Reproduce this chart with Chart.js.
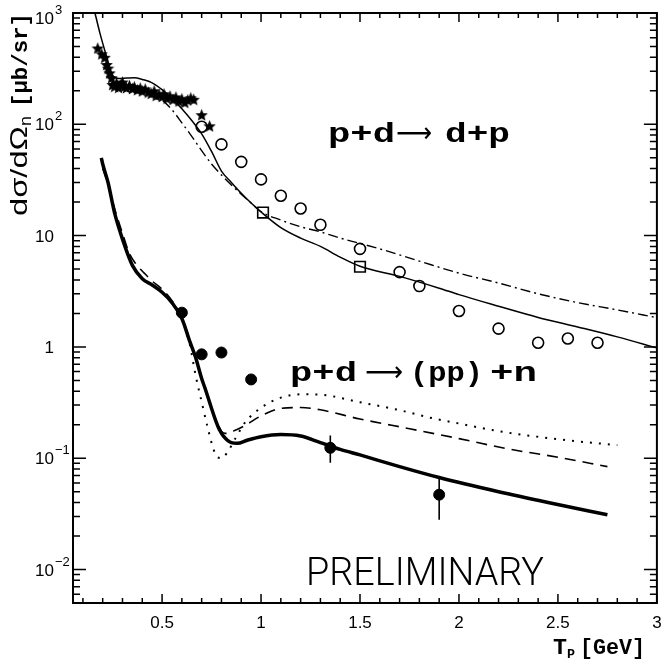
<!DOCTYPE html>
<html>
<head>
<meta charset="utf-8">
<script src="https://cdn.jsdelivr.net/npm/chart.js@4.4.1/dist/chart.umd.min.js"></script>
<style>
  html, body { margin: 0; padding: 0; background: #fff; }
  #wrap { width: 666px; height: 664px; }
</style>
</head>
<body>
<div id="wrap"><canvas id="c" width="666" height="664"></canvas></div>
<script>
// p+d -> d+p data (stars: low energy, circles, squares)
const starX = [0.175, 0.195, 0.21, 0.22, 0.227, 0.235, 0.245, 0.25, 0.26, 0.27, 0.28, 0.29, 0.30, 0.31, 0.32, 0.335, 0.35, 0.36, 0.375, 0.39, 0.40, 0.415, 0.43, 0.445, 0.46, 0.47, 0.485, 0.50, 0.51, 0.525, 0.54, 0.555, 0.57, 0.585, 0.60, 0.615, 0.63, 0.645, 0.66, 0.70, 0.74];
const starY = [485, 430, 400, 345, 320, 290, 262, 228, 220, 235, 215, 226, 240, 220, 214, 224, 210, 218, 205, 212, 200, 208, 195, 190, 200, 182, 186, 178, 188, 172, 180, 168, 176, 162, 170, 158, 166, 173, 168, 122, 97];

const ddpCircX = [0.7, 0.8, 0.9, 1.0, 1.1, 1.2, 1.3, 1.5, 1.7, 1.8, 2.0, 2.2, 2.4, 2.55, 2.7];
const ddpCircY = [95, 66, 46, 32, 22.8, 17.5, 12.5, 7.6, 4.7, 3.52, 2.1, 1.46, 1.09, 1.19, 1.09];

const ddpSqX = [1.01, 1.5];
const ddpSqY = [16.1, 5.25];

// p+d -> d+p calculations
const ddpSolidX = [0.161, 0.186, 0.22, 0.25, 0.28, 0.32, 0.36, 0.4, 0.45, 0.5, 0.55, 0.6, 0.65, 0.7, 0.75, 0.8, 0.85, 0.9, 0.95, 1.0, 1.1, 1.2, 1.3, 1.4, 1.5, 1.7, 1.9, 2.0, 2.2, 2.4, 2.6, 2.8, 3.0];
const ddpSolidY = [1000, 660, 405, 275, 258, 260, 262, 253, 236, 205, 170, 138, 108, 82, 57, 38, 30, 24, 19.6, 16.3, 11.8, 9.5, 8.0, 6.4, 5.3, 4.3, 3.37, 2.95, 2.32, 1.84, 1.51, 1.23, 0.98];

const ddpDashDotX = [0.42, 0.45, 0.5, 0.55, 0.6, 0.65, 0.7, 0.75, 0.8, 0.85, 0.9, 0.95, 1.0, 1.1, 1.2, 1.3, 1.4, 1.5, 1.6, 1.8, 2.0, 2.2, 2.4, 2.6, 2.8, 3.0];
const ddpDashDotY = [205, 185, 165, 135, 103, 78, 58, 44, 35, 28.5, 23.5, 19.6, 16.4, 13.8, 12.0, 10.8, 9.5, 8.5, 7.6, 5.9, 4.6, 3.75, 3.0, 2.5, 2.15, 1.83];

// p+d -> (pp)+n data with error bars
const ppnX = [0.6, 0.7, 0.8, 0.95, 1.35, 1.9];
const ppnY = [2.03, 0.857, 0.89, 0.51, 0.124, 0.047];
const ppnErrLo = [null, null, null, 0.46, 0.091, 0.028];
const ppnErrHi = [null, null, null, 0.55, 0.16, 0.068];

// p+d -> (pp)+n calculations
const ppnSolidX = [0.193, 0.2, 0.227, 0.26, 0.3, 0.35, 0.4, 0.45, 0.5, 0.55, 0.6, 0.64, 0.67, 0.7, 0.72, 0.75, 0.77, 0.79, 0.81, 0.85, 0.88, 0.93, 1.0, 1.1, 1.2, 1.3, 1.4, 1.5, 1.7, 1.9, 2.2, 2.45, 2.75];
const ppnSolidY = [50, 44, 30, 16, 9.3, 5.4, 4.1, 3.6, 3.1, 2.5, 1.8, 1.12, 0.8, 0.52, 0.41, 0.28, 0.22, 0.18, 0.158, 0.138, 0.136, 0.145, 0.156, 0.163, 0.158, 0.138, 0.12, 0.107, 0.084, 0.067, 0.05, 0.04, 0.031];

const ppnDashX = [0.2, 0.23, 0.26, 0.3, 0.335, 0.37, 0.41, 0.45, 0.5, 0.55, 0.6, 0.65, 0.7, 0.75, 0.8, 0.82, 0.87, 0.92, 1.0, 1.1, 1.2, 1.3, 1.5, 1.75, 2.0, 2.25, 2.5, 2.75];
const ppnDashY = [40, 28, 17.5, 10.5, 6.9, 5.5, 4.6, 3.9, 3.3, 2.6, 1.85, 1.0, 0.52, 0.28, 0.175, 0.167, 0.178, 0.197, 0.24, 0.28, 0.285, 0.272, 0.225, 0.184, 0.15, 0.121, 0.102, 0.084];

const ppnDotX = [0.6, 0.64, 0.67, 0.7, 0.73, 0.76, 0.78, 0.8, 0.83, 0.87, 0.92, 1.0, 1.1, 1.2, 1.3, 1.5, 1.7, 1.85, 2.0, 2.2, 2.5, 2.8];
const ppnDotY = [1.8, 1.05, 0.55, 0.32, 0.19, 0.12, 0.102, 0.1, 0.113, 0.15, 0.21, 0.284, 0.35, 0.375, 0.372, 0.318, 0.27, 0.232, 0.205, 0.175, 0.148, 0.131];

// axis ticks
const xTickVals = [0.5, 1, 1.5, 2, 2.5, 3];
const xTickLabels = ['0.5', '1', '1.5', '2', '2.5', '3'];
const yTickVals = [1000, 100, 10, 1, 0.1, 0.01];
const yTickBase = ['10', '10', '10', '1', '10', '10'];
const yTickExp = ['3', '2', '', '', '\u22121', '\u22122'];

const pts = (xs, ys) => xs.map((x, i) => ({ x, y: ys[i] }));

// filled five point star used as marker
function makeStar(size) {
  const cv = document.createElement('canvas');
  cv.width = cv.height = size;
  const g = cv.getContext('2d');
  g.beginPath();
  for (let i = 0; i < 10; i++) {
    const r = i % 2 ? size * 0.22 : size * 0.5;
    const a = -Math.PI / 2 + i * Math.PI / 5;
    g.lineTo(size / 2 + r * Math.cos(a), size / 2 + 0.8 + r * Math.sin(a));
  }
  g.closePath();
  g.fillStyle = '#000';
  g.fill();
  return cv;
}

function fitText(c, txt, x, y, w, font) {
  c.font = font;
  const m = c.measureText(txt).width;
  c.save();
  c.translate(x, y);
  c.scale(w / m, 1);
  c.textAlign = 'left';
  c.textBaseline = 'alphabetic';
  c.fillText(txt, 0, 0);
  c.restore();
}

// error bars on the (pp)+n points
const errorBars = {
  id: 'errorBars',
  afterDatasetsDraw(chart) {
    const c = chart.ctx, xs = chart.scales.x, ys = chart.scales.y;
    c.save();
    c.strokeStyle = '#000';
    c.lineWidth = 1.6;
    ppnX.forEach((x, i) => {
      if (ppnErrLo[i] == null) return;
      const px = xs.getPixelForValue(x);
      c.beginPath();
      c.moveTo(px, ys.getPixelForValue(ppnErrLo[i]));
      c.lineTo(px, ys.getPixelForValue(ppnErrHi[i]));
      c.stroke();
    });
    c.restore();
  }
};

// frame, inward ticks, y labels, titles and annotations
const frame = {
  id: 'frame',
  afterDraw(chart) {
    const c = chart.ctx, a = chart.chartArea;
    const xs = chart.scales.x, ys = chart.scales.y;
    c.save();
    c.strokeStyle = '#000';
    c.fillStyle = '#000';
    c.lineWidth = 2;
    c.strokeRect(a.left, a.top, a.right - a.left, a.bottom - a.top);

    c.lineWidth = 1.5;
    c.beginPath();
    for (let i = 1; i <= 30; i++) {
      const px = xs.getPixelForValue(i / 10);
      const len = i % 5 === 0 ? 9 : 5;
      c.moveTo(px, a.bottom); c.lineTo(px, a.bottom - len);
      c.moveTo(px, a.top); c.lineTo(px, a.top + len);
    }
    for (let d = -3; d <= 3; d++) {
      for (let k = 1; k <= 9; k++) {
        const v = k * Math.pow(10, d);
        if (v < ys.min || v > ys.max) continue;
        const py = ys.getPixelForValue(v);
        const len = k === 1 ? 13 : 7;
        c.moveTo(a.left, py); c.lineTo(a.left + len, py);
        c.moveTo(a.right, py); c.lineTo(a.right - len, py);
      }
    }
    c.stroke();

    // y tick labels with exponents
    yTickVals.forEach((v, i) => {
      const py = Math.max(ys.getPixelForValue(v) + 1.5, 19);
      c.font = '17px "Liberation Sans"';
      c.textAlign = 'right';
      c.textBaseline = 'middle';
      c.fillText(yTickBase[i], 54, py);
      if (yTickExp[i]) {
        c.font = '13px "Liberation Sans"';
        c.textAlign = 'left';
        c.fillText(yTickExp[i], 55, py - 9);
      }
    });

    // y title
    c.save();
    c.translate(27, 216);
    c.rotate(-Math.PI / 2);
    fitText(c, 'd\u03c3/d\u03a9', 0, 0, 90, '24px "Liberation Sans"');
    fitText(c, 'n', 90, 4, 10, '16px "Liberation Sans"');
    fitText(c, '[\u03bcb/sr]', 109, 0, 94, 'bold 22px "Liberation Mono"');
    c.restore();

    // x title
    fitText(c, 'T', 553, 654, 14, 'bold 22px "Liberation Mono"');
    fitText(c, 'P', 567, 658, 8, 'bold 12px "Liberation Mono"');
    fitText(c, '[GeV]', 580, 654, 65, 'bold 22px "Liberation Mono"');

    // reaction labels
    const mono = 'bold 28px "Liberation Mono"';
    fitText(c, 'p+d', 328, 142, 67, mono);
    fitText(c, '\u27f6', 396, 142, 36, '28px "DejaVu Sans"');
    fitText(c, 'd+p', 445, 142, 65, mono);
    fitText(c, 'p+d', 290, 381, 67, mono);
    fitText(c, '\u27f6', 365, 381, 38, '28px "DejaVu Sans"');
    fitText(c, '(pp)', 410, 381, 73, mono);
    fitText(c, '+n', 490, 381, 47, mono);

    fitText(c, 'PRELIMINARY', 306, 585, 238, '300 39px Roboto');
    c.restore();
  }
};

const lineDs = (xs, ys, width, dash) => ({
  data: pts(xs, ys),
  showLine: true,
  pointRadius: 0,
  borderColor: '#000',
  borderWidth: width,
  borderDash: dash,
  cubicInterpolationMode: 'monotone',
  fill: false
});

const ctx = document.getElementById('c').getContext('2d');
new Chart(ctx, {
  type: 'scatter',
  data: {
    datasets: [
      {
        data: pts(ppnX, ppnY),
        pointStyle: 'circle',
        pointRadius: 5.5,
        backgroundColor: '#000',
        borderColor: '#000',
        borderWidth: 1
      },
      {
        data: pts(starX, starY),
        pointStyle: makeStar(13),
        pointRadius: 6
      },
      {
        data: pts(ddpCircX, ddpCircY),
        pointStyle: 'circle',
        pointRadius: 5.5,
        backgroundColor: 'rgba(0,0,0,0)',
        borderColor: '#000',
        borderWidth: 1.6
      },
      {
        data: pts(ddpSqX, ddpSqY),
        pointStyle: 'rect',
        pointRadius: 7.5,
        backgroundColor: 'rgba(0,0,0,0)',
        borderColor: '#000',
        borderWidth: 1.6
      },
      lineDs(ddpSolidX, ddpSolidY, 1.5, []),
      lineDs(ddpDashDotX, ddpDashDotY, 1.4, [10, 4, 2, 4]),
      lineDs(ppnSolidX, ppnSolidY, 3.5, []),
      lineDs(ppnDashX, ppnDashY, 1.6, [11, 7]),
      lineDs(ppnDotX, ppnDotY, 2, [2, 7])
    ]
  },
  options: {
    responsive: false,
    animation: false,
    layout: { padding: { top: 13, right: 2, left: 0, bottom: 0 } },
    plugins: { legend: { display: false }, tooltip: { enabled: false } },
    scales: {
      x: {
        type: 'linear',
        min: 0.05,
        max: 3,
        grid: { display: false, drawTicks: false },
        border: { display: false },
        afterBuildTicks: s => { s.ticks = xTickVals.map(v => ({ value: v })); },
        afterFit: s => { s.height = 61; s.paddingLeft = 0; s.paddingRight = 0; },
        ticks: {
          padding: 10,
          color: '#000',
          maxRotation: 0,
          autoSkip: false,
          font: { family: 'Liberation Sans', size: 17 },
          callback: v => xTickLabels[xTickVals.indexOf(v)]
        }
      },
      y: {
        type: 'logarithmic',
        min: 0.005,
        max: 1000,
        grid: { display: false, drawTicks: false },
        border: { display: false },
        ticks: { display: false },
        afterFit: s => { s.width = 73; s.paddingTop = 0; s.paddingBottom = 0; }
      }
    }
  },
  plugins: [errorBars, frame]
});
</script>
</body>
</html>
